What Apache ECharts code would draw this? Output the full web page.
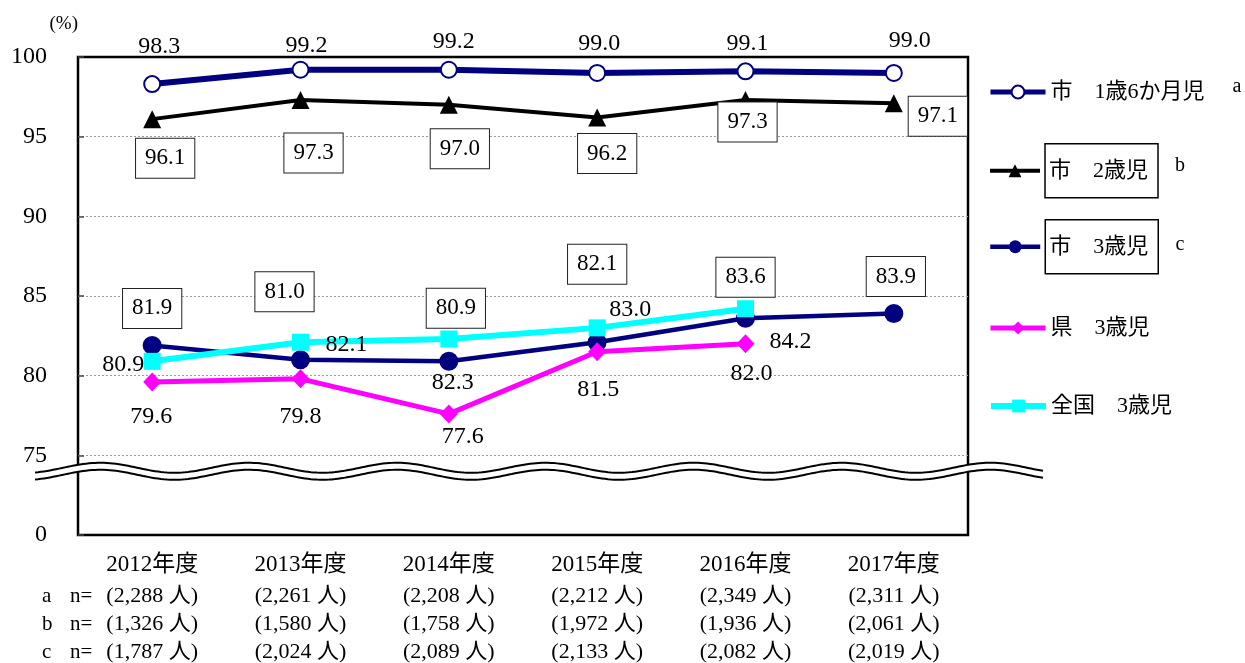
<!DOCTYPE html>
<html>
<head>
<meta charset="utf-8">
<script src="https://cdn.jsdelivr.net/npm/echarts@6/dist/echarts.min.js"></script>
<style>
  html, body { margin: 0; padding: 0; background: #fff; }
  #chart { width: 1245px; height: 663px; }
</style>
</head>
<body>
<div id="chart"></div>
<script>
// ---- data ----
const categories = ['2012年度', '2013年度', '2014年度', '2015年度', '2016年度', '2017年度'];
const seriesNames = ['市　1歳6か月児', '市　2歳児', '市　3歳児', '県　3歳児', '全国　3歳児'];
const city18m = [98.3, 99.2, 99.2, 99.0, 99.1, 99.0];
const city2y = [96.1, 97.3, 97.0, 96.2, 97.3, 97.1];
const city3y = [81.9, 81.0, 80.9, 82.1, 83.6, 83.9];
const pref3y = [79.6, 79.8, 77.6, 81.5, 82.0];
const nation3y = [80.9, 82.1, 82.3, 83.0, 84.2];
const respondentsA = ['2,288', '2,261', '2,208', '2,212', '2,349', '2,311'];
const respondentsB = ['1,326', '1,580', '1,758', '1,972', '1,936', '2,061'];
const respondentsC = ['1,787', '2,024', '2,089', '2,133', '2,082', '2,019'];
const yTickValues = [70, 75, 80, 85, 90, 95, 100];
const yTickText = ['0', '75', '80', '85', '90', '95', '100'];   // 70 stands in for 0 below the axis break
const rowTags = ['a', 'b', 'c'];

// ---- label placement (pixel offsets from each point) ----
const offA = [[7, -37], [6, -24], [5, -28], [2, -29], [2, -28], [16, -32]];
const offB = [[13, 39], [13, 53], [11, 44], [10, 36], [2, 22], [44, 13]];
const offC = [[0, -37], [-16, -68], [7, -53], [0, -78], [0, -41], [2, -37]];
const offPref = [[-1, 35], [0, 38], [14, 23], [1, 38], [6, 30]];
const offNation = [[-29, 3], [46, 2], [4, 44], [33, -18], [45, 33]];

const SERIF = '"Liberation Serif", "Noto Sans CJK JP", serif';
const NAVY = '#000080';
const fmt1 = p => Number(p.value).toFixed(1);

const boxLabel = {
  show: true, position: 'inside', color: '#000', fontFamily: SERIF, fontSize: 23, lineHeight: 23,
  backgroundColor: '#fff', borderColor: '#222', borderWidth: 1, padding: [8, 9, 8, 9], formatter: fmt1
};
const plainLabel = {
  show: true, position: 'inside', color: '#000', fontFamily: SERIF, fontSize: 24, formatter: fmt1
};

function withLabels(values, offsets, base) {
  return values.map((v, i) => ({ value: v, label: Object.assign({}, base, { offset: offsets[i] }) }));
}

const chart = echarts.init(document.getElementById('chart'), null, { renderer: 'canvas' });

const legendText = { fontFamily: SERIF, fontSize: 22, color: '#000', lineHeight: 26 };
const legendBoxText = {
  fontFamily: SERIF, fontSize: 22, color: '#000',
  rich: { box: { fontFamily: SERIF, fontSize: 22, lineHeight: 24, borderColor: '#000', borderWidth: 1.5, padding: [16, 10, 16, 4] } }
};
function legendItem(name, top, boxed, lineWidth) {
  return {
    data: [name], left: 988, top: top, orient: 'horizontal', padding: 0,
    itemWidth: boxed ? 50 : 55, itemHeight: 16,
    selectedMode: false, textStyle: boxed ? legendBoxText : legendText,
    lineStyle: { width: lineWidth },
    formatter: boxed ? (n => '{box|' + n + '}') : (n => n)
  };
}

chart.setOption({
  animation: false,
  backgroundColor: '#fff',
  grid: { left: 78, right: 277, top: 57, bottom: 126, show: true, borderColor: '#000', borderWidth: 2.5, backgroundColor: 'transparent' },
  legend: [
    legendItem(seriesNames[0], 79, false, 5),
    legendItem(seriesNames[1], 143, true, 4),
    legendItem(seriesNames[2], 219, true, 4.5),
    legendItem(seriesNames[3], 315, false, 5),
    legendItem(seriesNames[4], 393, false, 6)
  ],
  xAxis: {
    type: 'category', data: categories, boundaryGap: true,
    axisLine: { show: false }, axisTick: { show: false },
    axisLabel: {
      margin: 13, interval: 0,
      formatter: (v, i) => '{yr|' + v + '}\n{n|(' + respondentsA[i] + ' 人)}\n{n|(' + respondentsB[i] + ' 人)}\n{n|(' + respondentsC[i] + ' 人)}',
      rich: {
        yr: { fontFamily: SERIF, fontSize: 23, lineHeight: 34, color: '#000' },
        n: { fontFamily: SERIF, fontSize: 22, lineHeight: 28, color: '#000' }
      }
    }
  },
  yAxis: {
    type: 'value', min: 70, max: 100, interval: 5,
    name: '(%)', nameLocation: 'end', nameGap: 33,
    nameTextStyle: { fontFamily: SERIF, fontSize: 19, color: '#000', align: 'right', verticalAlign: 'middle' },
    axisLine: { show: false },
    axisTick: { show: true, inside: true, length: 6, lineStyle: { color: '#444', width: 1.5 } },
    axisLabel: {
      margin: 31, fontFamily: SERIF, fontSize: 24, color: '#000',
      formatter: v => yTickText[yTickValues.indexOf(v)]
    },
    splitLine: { show: true, showMinLine: false, showMaxLine: false, lineStyle: { color: '#999', type: [2, 2], width: 1 } }
  },
  series: [
    {
      name: seriesNames[0], type: 'line', data: withLabels(city18m, offA, plainLabel),
      symbol: 'emptyCircle', symbolSize: 16, color: NAVY,
      lineStyle: { color: NAVY, width: 6 }, itemStyle: { color: NAVY, borderColor: NAVY, borderWidth: 1.5 }, z: 2
    },
    {
      name: seriesNames[1], type: 'line', data: withLabels(city2y, offB, boxLabel),
      symbol: 'triangle', symbolSize: 18, color: '#000',
      lineStyle: { color: '#000', width: 4 }, itemStyle: { color: '#000' }, z: 3
    },
    {
      name: seriesNames[2], type: 'line', data: withLabels(city3y, offC, boxLabel),
      symbol: 'circle', symbolSize: 19, color: NAVY,
      lineStyle: { color: NAVY, width: 4.5 }, itemStyle: { color: NAVY }, z: 4
    },
    {
      name: seriesNames[3], type: 'line', data: withLabels(pref3y, offPref, plainLabel),
      symbol: 'diamond', symbolSize: [18, 19], color: '#FF00FF',
      lineStyle: { color: '#FF00FF', width: 5 }, itemStyle: { color: '#FF00FF' }, z: 5
    },
    {
      name: seriesNames[4], type: 'line', data: withLabels(nation3y, offNation, plainLabel),
      symbol: 'rect', symbolSize: 17, color: '#00FFFF',
      lineStyle: { color: '#00FFFF', width: 6 }, itemStyle: { color: '#00FFFF' }, z: 6
    }
  ]
});

// ---- axis break, legend tags and row captions ----
function buildOverlay() {
  const yMid = chart.convertToPixel({ yAxisIndex: 0 }, 74);
  const c0 = chart.convertToPixel({ xAxisIndex: 0 }, 0);
  const c1 = chart.convertToPixel({ xAxisIndex: 0 }, 1);
  const period = c1 - c0;
  const crest = c0 - 0.35 * period;
  const gridLeft = c0 - period / 2;
  const xStart = gridLeft - 43, xEnd = 1045;
  const amp = 5, gap = 3.5;
  const upper = [], lower = [];
  for (let x = xStart; x <= xEnd; x += 3) {
    const w = -amp * Math.cos(2 * Math.PI * (x - crest) / period);
    upper.push([x, yMid - gap + w]);
    lower.push([x, yMid + gap + w]);
  }
  const band = upper.concat(lower.slice().reverse());

  const yAxisBottom = chart.convertToPixel({ yAxisIndex: 0 }, 70);
  const rowY = [yAxisBottom + 13 + 34 + 14, yAxisBottom + 13 + 34 + 42, yAxisBottom + 13 + 34 + 70];

  const graphic = [
    { type: 'polygon', z: 10, shape: { points: band }, style: { fill: '#fff', stroke: null } },
    { type: 'polyline', z: 11, shape: { points: upper }, style: { stroke: '#000', lineWidth: 2, fill: null } },
    { type: 'polyline', z: 11, shape: { points: lower }, style: { stroke: '#000', lineWidth: 2, fill: null } },
    { type: 'text', x: 1237, y: 87, style: { text: 'a', font: '20px ' + SERIF, fill: '#000', textAlign: 'center', textVerticalAlign: 'middle' } },
    { type: 'text', x: 1180, y: 166, style: { text: 'b', font: '20px ' + SERIF, fill: '#000', textAlign: 'center', textVerticalAlign: 'middle' } },
    { type: 'text', x: 1180, y: 245, style: { text: 'c', font: '20px ' + SERIF, fill: '#000', textAlign: 'center', textVerticalAlign: 'middle' } }
  ];
  rowTags.forEach((t, i) => {
    graphic.push({ type: 'text', x: 42, y: rowY[i], style: { text: t, font: '21px ' + SERIF, fill: '#000', textVerticalAlign: 'middle' } });
    graphic.push({ type: 'text', x: 70, y: rowY[i], style: { text: 'n=', font: '21px ' + SERIF, fill: '#000', textVerticalAlign: 'middle' } });
  });
  chart.setOption({ graphic: graphic });
}
buildOverlay();
</script>
</body>
</html>
